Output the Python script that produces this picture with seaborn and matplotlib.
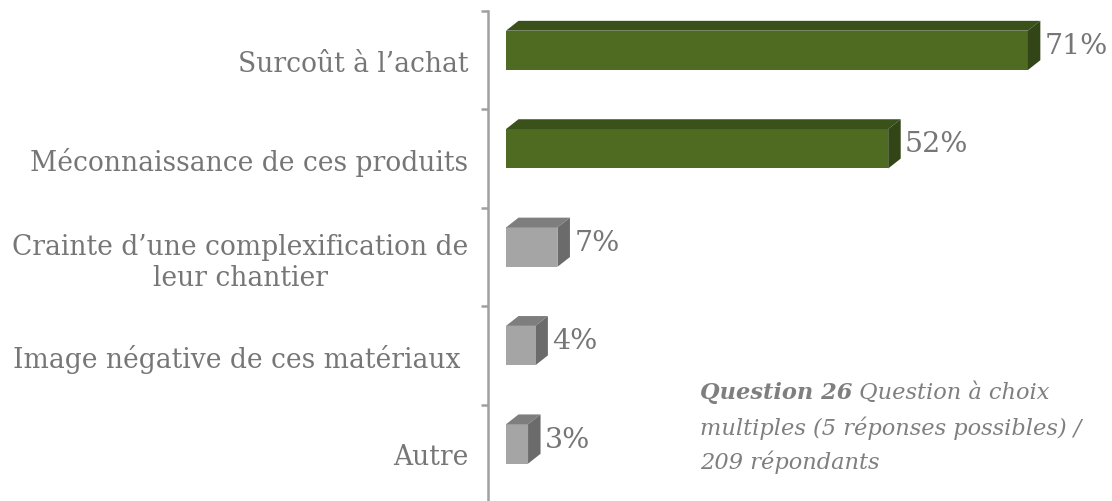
import matplotlib
matplotlib.use("Agg")
import matplotlib.pyplot as plt
from matplotlib.patches import Polygon
import seaborn as sns
import pandas as pd

# Data
reasons = [
    "Surcoût à l’achat",
    "Méconnaissance de ces produits",
    "Crainte d’une complexification de\nleur chantier",
    "Image négative de ces matériaux ",
    "Autre",
]
percent = [71, 52, 7, 4, 3]
front_colors = ["#4E6B21", "#4E6B21", "#A5A5A5", "#A5A5A5", "#A5A5A5"]
top_colors = ["#3A5119", "#3A5119", "#7E7E7E", "#7E7E7E", "#7E7E7E"]
side_colors = ["#314516", "#314516", "#6B6B6B", "#6B6B6B", "#6B6B6B"]
note_lines = ["multiples (5 réponses possibles) /", "209 répondants"]

df = pd.DataFrame({"reason": reasons, "percent": percent})

sns.set_theme(style="white")
plt.rcParams["font.family"] = ["DejaVu Serif"]

text_gray = "#767676"
fig = plt.figure(figsize=(11.12, 5.02), dpi=100)
ax = fig.add_axes([506 / 1112, -2 / 502, 588 / 1112, 492 / 502])

sns.barplot(data=df, x="percent", y="reason", hue="reason", palette=front_colors,
            orient="h", width=0.4, legend=False, ax=ax, saturation=1)

# 3D look: shift front faces up a bit, add top and side faces
dx = 1.7   # depth in % units
dy = 0.1   # depth in category units
for i, patch in enumerate(ax.patches[:len(percent)]):
    patch.set_y(patch.get_y() - 0.1)
    patch.set_edgecolor("none")
    x0 = patch.get_x()
    w = patch.get_width()
    y_top = patch.get_y()
    y_bot = y_top + patch.get_height()
    top = Polygon([(x0, y_top), (x0 + w, y_top), (x0 + w + dx, y_top - dy), (x0 + dx, y_top - dy)],
                  closed=True, facecolor=top_colors[i], edgecolor="none")
    side = Polygon([(x0 + w, y_top), (x0 + w + dx, y_top - dy), (x0 + w + dx, y_bot - dy), (x0 + w, y_bot)],
                   closed=True, facecolor=side_colors[i], edgecolor="none")
    ax.add_patch(top)
    ax.add_patch(side)
    ax.text(x0 + w + dx + 0.6, (y_top + y_bot) / 2 - dy / 2, f"{percent[i]}%",
            ha="left", va="center", fontsize=20.5, color=text_gray)

ax.set_xlim(0, 80)
ax.set_ylim(4.5, -0.5)
ax.set_xlabel("")
ax.set_ylabel("")
ax.set_xticks([])

for side_name in ["top", "right", "bottom"]:
    ax.spines[side_name].set_visible(False)
ax.spines["left"].set_position(("outward", 13))
ax.spines["left"].set_color("#A0A0A0")
ax.spines["left"].set_linewidth(1.8)

ax.set_yticks(range(len(reasons)))
ax.set_yticks([i - 0.5 for i in range(len(reasons) + 1)], minor=True)
ax.tick_params(axis="y", which="major", length=0, pad=14, labelsize=19.1, labelcolor=text_gray)
ax.tick_params(axis="y", which="minor", length=5, width=1.8, color="#A0A0A0", direction="out", left=True)
for lab in ax.get_yticklabels():
    lab.set_multialignment("center")

# Note text
note_color = "#7F7F7F"
t1 = fig.text(700 / 1112, 1 - 393 / 502, "Question 26", fontsize=16.2, style="italic",
              weight="bold", color=note_color, ha="left", va="center")
ax.annotate(" Question à choix", xy=(1, 0), xycoords=t1, ha="left", va="bottom",
            fontsize=16.2, style="italic", color=note_color)
for k, line in enumerate(note_lines):
    fig.text(700 / 1112, 1 - (428 + 34 * k) / 502, line,
             fontsize=16.2, style="italic", color=note_color, ha="left", va="center")

fig.savefig("out.png", dpi=100)
plt.close(fig)
